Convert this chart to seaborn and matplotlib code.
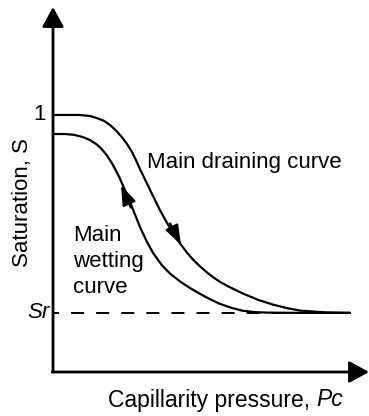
import matplotlib
matplotlib.use("Agg")
import matplotlib.pyplot as plt
import seaborn as sns
import pandas as pd

# ---- data (normalised capillary pressure, saturation) ----
drain_pc = [0.0, 0.050, 0.091, 0.125, 0.148, 0.172, 0.192, 0.212, 0.232, 0.250, 0.266,
            0.280, 0.293, 0.310, 0.327, 0.344, 0.360, 0.384, 0.404, 0.428, 0.450,
            0.471, 0.495, 0.520, 0.539, 0.562, 0.585, 0.606, 0.640, 0.690, 0.741,
            0.790, 0.832, 0.916, 1.0]
drain_s = [1.0, 1.0, 1.0, 0.996, 0.988, 0.977, 0.961, 0.940, 0.914, 0.886, 0.856,
           0.823, 0.789, 0.749, 0.708, 0.668, 0.630, 0.580, 0.541, 0.500, 0.466,
           0.438, 0.411, 0.386, 0.369, 0.351, 0.336, 0.324, 0.305, 0.281, 0.262,
           0.248, 0.239, 0.232, 0.230]
wet_pc = [0.0, 0.040, 0.070, 0.101, 0.125, 0.148, 0.165, 0.182, 0.197, 0.209, 0.222,
          0.232, 0.245, 0.259, 0.276, 0.293, 0.316, 0.337, 0.367, 0.394, 0.428,
          0.461, 0.495, 0.529, 0.562, 0.603, 0.640, 0.680, 0.721, 0.832, 1.0]
wet_s = [0.926, 0.926, 0.923, 0.914, 0.902, 0.885, 0.866, 0.842, 0.815, 0.790, 0.761,
         0.735, 0.700, 0.662, 0.613, 0.564, 0.507, 0.463, 0.415, 0.383, 0.352,
         0.327, 0.304, 0.283, 0.265, 0.249, 0.238, 0.233, 0.231, 0.230, 0.230]
sr_value = 0.230
sr_pc = [0.0, 1.0]
y_tick_labels = ["Sr", "1"]
curve_names = ["Main draining curve", "Main wetting curve"]

FONT = ["Liberation Sans", "DejaVu Sans"]
FS = 16
sns.set_theme(style="white")
plt.rcParams["font.family"] = FONT
plt.rcParams["text.color"] = "black"

fig = plt.figure(figsize=(3.69, 4.16), dpi=100)
ax = fig.add_axes([53 / 369, 44 / 416, 1 - 53 / 369, (416 - 7 - 44) / 416])
ax.set_xlim(0, 316 / 297)
ax.set_ylim(0, 365 / 257)

df = pd.concat([
    pd.DataFrame({"Pc": drain_pc, "S": drain_s, "curve": curve_names[0]}),
    pd.DataFrame({"Pc": wet_pc, "S": wet_s, "curve": curve_names[1]}),
])
sns.lineplot(data=df, x="Pc", y="S", units="curve", estimator=None, sort=False,
             color="black", linewidth=1.6, ax=ax, legend=False)
sns.lineplot(x=sr_pc, y=[sr_value, sr_value], color="black", linewidth=1.4,
             linestyle=(3.6, (6.7, 6.2)), ax=ax, legend=False)

for s in ax.spines.values():
    s.set_visible(False)
ax.set_xticks([])
ax.set_yticks([])
ax.set_xlabel("")
ax.set_ylabel("")
ax.grid(False)

# axes with arrow heads
arrow_axis = dict(arrowstyle="-|>,head_length=0.6,head_width=0.33", color="black",
                  lw=2.0, shrinkA=0, shrinkB=0, mutation_scale=20)
ax.annotate("", xy=(0, 365 / 257), xytext=(0, 0), xycoords="data",
            arrowprops=arrow_axis, annotation_clip=False)
ax.annotate("", xy=(316 / 297, 0), xytext=(-0.003, 0), xycoords="data",
            arrowprops=arrow_axis, annotation_clip=False)

# direction arrows on curves
arrow_curve = dict(arrowstyle="-|>,head_length=0.6,head_width=0.21", color="black",
                   lw=1.6, shrinkA=0, shrinkB=0, mutation_scale=20)
ax.annotate("", xy=(0.431, 0.494), xytext=(0.394, 0.578), arrowprops=arrow_curve)
ax.annotate("", xy=(0.229, 0.727), xytext=(0.262, 0.640), arrowprops=arrow_curve)

# tick labels
ax.text(-0.025, 1.0, y_tick_labels[1], ha="right", va="center", fontsize=FS)
ax.text(-0.012, sr_value, y_tick_labels[0], ha="right", va="center", fontsize=FS,
        style="italic")

# curve labels
ax.text(0.317, 0.815, curve_names[0], ha="left", va="center", fontsize=FS)
ax.text(0.067, 0.43, "Main\nwetting\ncurve", ha="left", va="center", fontsize=FS,
        linespacing=1.3)

# axis titles
fig.text(23 / 369, 1 - 203 / 416, "Saturation, S", rotation=90, ha="center",
         va="center", fontsize=FS)
t1 = fig.text(108 / 369, 1 - 400 / 416, "Capillarity pressure, ", ha="left",
              va="center", fontsize=16.5)
fig.canvas.draw()
bb = t1.get_window_extent(renderer=fig.canvas.get_renderer())
fig.text(bb.x1 / fig.bbox.width, 1 - 400 / 416, "Pc", ha="left", va="center",
         fontsize=16.5, style="italic")

fig.savefig("out.png", dpi=100)
